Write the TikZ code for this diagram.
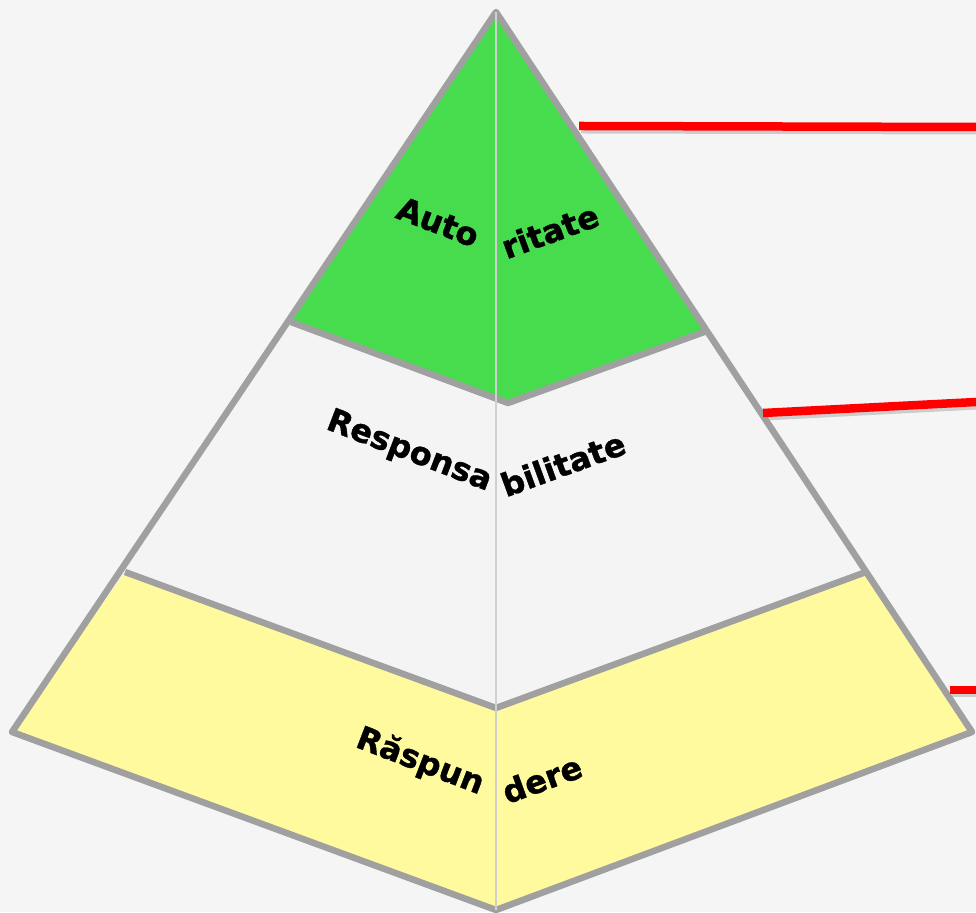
\documentclass[tikz,border=0pt]{standalone}
\usepackage{fontspec}
\setmainfont{DejaVu Sans}
\newfontfamily\lblfont[FakeBold=1.2]{DejaVu Sans Bold}
\definecolor{bgc}{HTML}{F5F5F5}
\definecolor{greenc}{RGB}{70,220,78}
\definecolor{yellowc}{HTML}{FFFA9E}
\definecolor{midc}{HTML}{F4F4F4}
\definecolor{edgec}{HTML}{A0A0A0}
\definecolor{axisc}{HTML}{D0D0D0}
\definecolor{redc}{HTML}{FF0000}
\tikzset{
  edge/.style={draw=edgec,line width=6.5pt,line join=round},
  lbl/.style={font=\lblfont\fontsize{32}{34}\selectfont,inner sep=0pt,anchor=center},
  redline/.style={draw=redc,line width=8.5pt},
  redshadow/.style={draw=black,opacity=0.16,line width=9pt},
}
\begin{document}
\begin{tikzpicture}[x=1pt,y=1pt]
\fill[bgc] (0,0) rectangle (976,912);
\useasboundingbox (0,0) rectangle (976,912);
% points
\coordinate (apex) at (496,900);
\coordinate (gr) at (707,581);
\coordinate (gb) at (508,509);
\coordinate (gl) at (291,590);
\coordinate (mr) at (866,340);
\coordinate (mb) at (496,204);
\coordinate (ml) at (125,340);
\coordinate (br) at (972,180);
\coordinate (bb) at (496,2);
\coordinate (bl) at (12,180);
% fills
\fill[greenc] (apex) -- (gr) -- (gb) -- (gl) -- cycle;
\fill[midc] (gl) -- (gb) -- (gr) -- (mr) -- (mb) -- (ml) -- cycle;
\fill[yellowc] (ml) -- (mb) -- (mr) -- (br) -- (bb) -- (bl) -- cycle;
% red connectors with shadows
\coordinate (r1a) at (579,786);
\coordinate (r1b) at (976,785);
\coordinate (r2a) at (763,499);
\coordinate (r2b) at (976,510);
\coordinate (r3a) at (950,222);
\coordinate (r3b) at (976,222);
\draw[redshadow] ([shift={(2,-3)}]r1a) -- ([shift={(2,-3)}]r1b);
\draw[redshadow] ([shift={(2,-3)}]r2a) -- ([shift={(2,-3)}]r2b);
\draw[redshadow] ([shift={(2,-3)}]r3a) -- ([shift={(2,-3)}]r3b);
% outlines
\draw[edge] (apex) -- (br) -- (bb) -- (bl) -- cycle;
\draw[edge] (gl) -- (gb) -- (gr);
\draw[edge] (ml) -- (mb) -- (mr);
\draw[redline] (r1a) -- (r1b);
\draw[redline] (r2a) -- (r2b);
\draw[redline] (r3a) -- (r3b);
% center axis
\draw[axisc,line width=2pt] (apex) -- (bb);
% labels
\node[lbl,rotate=-21] (t1) at (438,690) {Auto};
\node[lbl,rotate=20] (t2) at (550,681) {ritate};
\node[lbl,rotate=-21] (t3) at (409,460) {Responsa};
\node[lbl,rotate=20] (t4) at (563,448) {bilitate};
\node[lbl,rotate=-21] (t5) at (420,150) {Răspun};
\node[lbl,rotate=20] (t6) at (542,133) {dere};
\end{tikzpicture}
\end{document}
